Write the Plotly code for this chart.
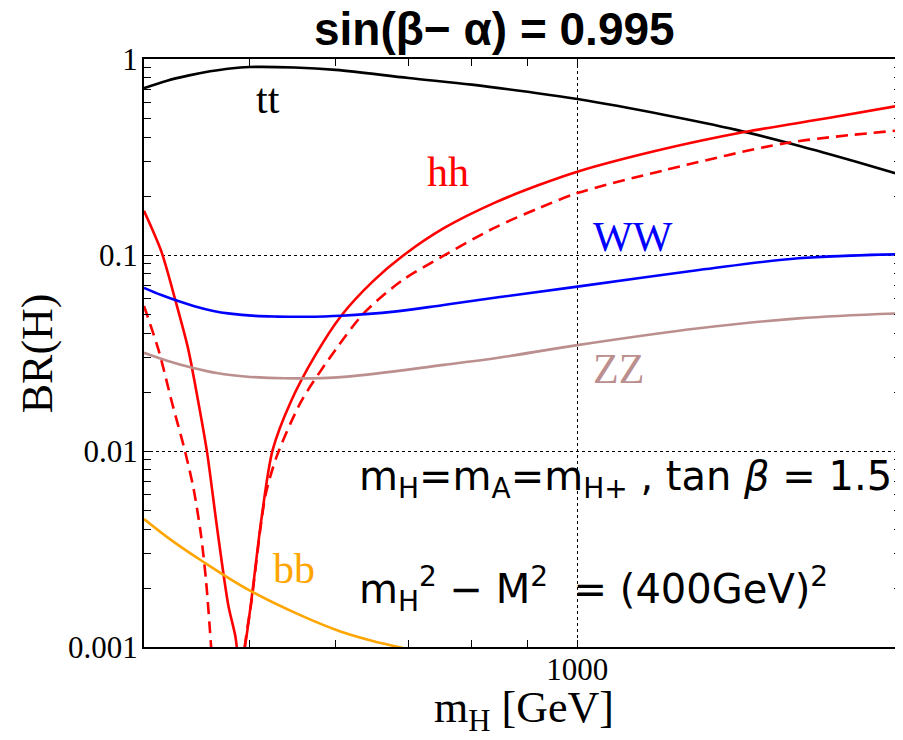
import plotly.graph_objects as go

# ---------------- data ----------------
m_tt = [400, 420, 440, 460, 480, 500, 550, 600, 700, 800, 900, 1000, 1200, 1400, 1600, 1800, 2000]
br_tt = [0.71, 0.775, 0.825, 0.865, 0.895, 0.91, 0.905, 0.88, 0.80, 0.74, 0.68, 0.625, 0.52, 0.435, 0.36, 0.30, 0.253]

m_hh = [400, 415, 427, 439, 448, 457, 467, 478, 485, 490, 495, 502, 513, 525, 546, 575, 607, 650, 693, 754, 840, 923, 1000, 1200, 1427, 1700, 2000]
br_hh = [0.168, 0.104, 0.060, 0.0335, 0.0186, 0.0099, 0.0040, 0.00164, 0.00115, 0.0008, 0.001, 0.00174, 0.0046, 0.0101, 0.018, 0.031, 0.049, 0.074, 0.10, 0.137, 0.185, 0.228, 0.266, 0.347, 0.425, 0.50, 0.585]

m_hh2 = [400, 413, 424, 436, 444, 451, 456, 461, 466, 475, 488, 495, 502, 513, 518, 530, 558, 600, 637, 690, 751, 840, 923, 1000, 1200, 1556, 2000]
br_hh2 = [0.055, 0.032, 0.018, 0.0101, 0.0065, 0.0038, 0.0022, 0.001, 0.0004, 0.0003, 0.0003, 0.001, 0.0017, 0.0045, 0.0062, 0.0095, 0.018, 0.033, 0.0506, 0.074, 0.098, 0.138, 0.174, 0.207, 0.27, 0.373, 0.435]

m_ww = [400, 415, 430, 445, 462, 480, 506, 530, 562, 607, 679, 754, 849, 1000, 1293, 1596, 2000]
br_ww = [0.068, 0.0625, 0.0582, 0.0548, 0.052, 0.0502, 0.0489, 0.0485, 0.0484, 0.049, 0.0514, 0.0556, 0.061, 0.069, 0.0838, 0.0962, 0.101]

m_zz = [400, 420, 443, 468, 495, 538, 611, 754, 849, 1000, 1293, 1596, 2000]
br_zz = [0.0317, 0.0289, 0.0266, 0.0249, 0.0240, 0.0235, 0.0239, 0.0275, 0.030, 0.0347, 0.0423, 0.0475, 0.0505]

m_bb = [400, 425, 453, 498, 562, 606, 650, 685, 750]
br_bb = [0.0045, 0.00347, 0.00273, 0.00197, 0.00142, 0.00120, 0.00107, 0.001, 0.00088]

x_major = [1000]
x_major_text = ["1000"]
x_minor = [500, 600, 700, 800, 900]
y_major = [0.001, 0.01, 0.1, 1]
y_major_text = ["0.001", "0.01", "0.1", "1"]
y_minor = [k * 10.0 ** e for e in (-3, -2, -1) for k in range(2, 10)]

# ---------------- figure ----------------
OFF = 8                       # page body margin
W, H = 895, 732
L, R, T, B = 136, 0, 51, 93
PW, PH = W - L - R, H - T - B


def px(xs):                    # screen pixel -> paper x
    return (xs - OFF - L) / PW


def py(ys):                    # screen pixel -> paper y
    return (H - B - (ys - OFF)) / PH


fig = go.Figure()
lw = 2.6
fig.add_trace(go.Scatter(x=m_tt, y=br_tt, mode="lines", line=dict(color="black", width=lw, shape="spline"), name="tt"))
fig.add_trace(go.Scatter(x=m_hh2, y=br_hh2, mode="lines", line=dict(color="#ff0000", width=lw, dash="12px,7px", shape="spline", smoothing=0.8), name="hh (dashed)"))
fig.add_trace(go.Scatter(x=m_hh, y=br_hh, mode="lines", line=dict(color="#ff0000", width=lw, shape="spline", smoothing=0.8), name="hh"))
fig.add_trace(go.Scatter(x=m_ww, y=br_ww, mode="lines", line=dict(color="#0000ff", width=lw, shape="spline"), name="WW"))
fig.add_trace(go.Scatter(x=m_zz, y=br_zz, mode="lines", line=dict(color="#bc8f8f", width=lw, shape="spline"), name="ZZ"))
fig.add_trace(go.Scatter(x=m_bb, y=br_bb, mode="lines", line=dict(color="#ffa500", width=lw, shape="spline"), name="bb"))

serif = "Liberation Serif, Times New Roman, serif"
sans = "Liberation Sans, Arial, sans-serif"
dejavu = "DejaVu Sans, sans-serif"

axis_common = dict(
    showline=True, linecolor="black", linewidth=2, mirror="ticks",
    ticks="inside", ticklen=7, tickwidth=1.3, tickcolor="black",
    showgrid=True, gridcolor="black", griddash="dot", gridwidth=1,
    zeroline=False, tickfont=dict(family=serif, size=31, color="black"),
)

fig.update_layout(
    width=W, height=H,
    margin=dict(l=L, r=R, t=T, b=B),
    paper_bgcolor="white", plot_bgcolor="white",
    showlegend=False,
    xaxis=dict(type="log", range=[2.60206, 3.2972], tickmode="array",
               tickvals=x_major, ticktext=x_major_text,
               minor=dict(tickmode="array", tickvals=x_minor, ticks="inside", ticklen=7,
                          tickwidth=1.3, tickcolor="black", showgrid=False),
               ticklabelstandoff=-6,
               **axis_common),
    yaxis=dict(type="log", range=[-3, 0], tickmode="array",
               tickvals=y_major, ticktext=y_major_text,
               minor=dict(tickmode="array", tickvals=y_minor, ticks="inside", ticklen=7,
                          tickwidth=1.3, tickcolor="black", showgrid=False),
               ticklabelstandoff=-2,
               **axis_common),
)

ann = []
# title
ann.append(dict(text="<b>sin(β− α) = 0.995</b>", x=px(495), y=py(29), xref="paper", yref="paper",
                showarrow=False, font=dict(family=sans, size=46, color="black"),
                xanchor="center", yanchor="middle"))
# curve labels
labels = [("tt", 268, 99, "black"), ("hh", 449, 172, "#ff0000"), ("WW", 634, 237, "#0000ff"),
          ("ZZ", 620, 369, "#bc8f8f"), ("bb", 294, 569, "#ffa500")]
for t, xs, ys, c in labels:
    ann.append(dict(text=t, x=px(xs), y=py(ys), xref="paper", yref="paper", showarrow=False,
                    font=dict(family=serif, size=42, color=c), xanchor="center", yanchor="middle"))
# parameter text
ann.append(dict(text="m<sub>H</sub>=m<sub>A</sub>=m<sub>H+</sub> , tan <i>β</i> = 1.5",
                x=px(358), y=py(479), xref="paper", yref="paper", showarrow=False,
                font=dict(family=dejavu, size=40, color="black"), xanchor="left", yanchor="middle"))
ann.append(dict(text="m<sub>H</sub><sup>2</sup> − M<sup>2</sup>\u00a0 = (400GeV)<sup>2</sup>",
                x=px(358), y=py(589), xref="paper", yref="paper", showarrow=False,
                font=dict(family=dejavu, size=40, color="black"), xanchor="left", yanchor="middle"))
# axis titles
ann.append(dict(text="BR(H)", x=px(37), y=py(353), xref="paper", yref="paper", showarrow=False,
                textangle=-90, font=dict(family=serif, size=44, color="black"),
                xanchor="center", yanchor="middle"))
ann.append(dict(text="m<sub>H</sub> [GeV]", x=px(525), y=py(711), xref="paper", yref="paper",
                showarrow=False, font=dict(family=serif, size=44, color="black"),
                xanchor="center", yanchor="middle"))
fig.update_layout(annotations=ann)

fig.write_html("out.html")
